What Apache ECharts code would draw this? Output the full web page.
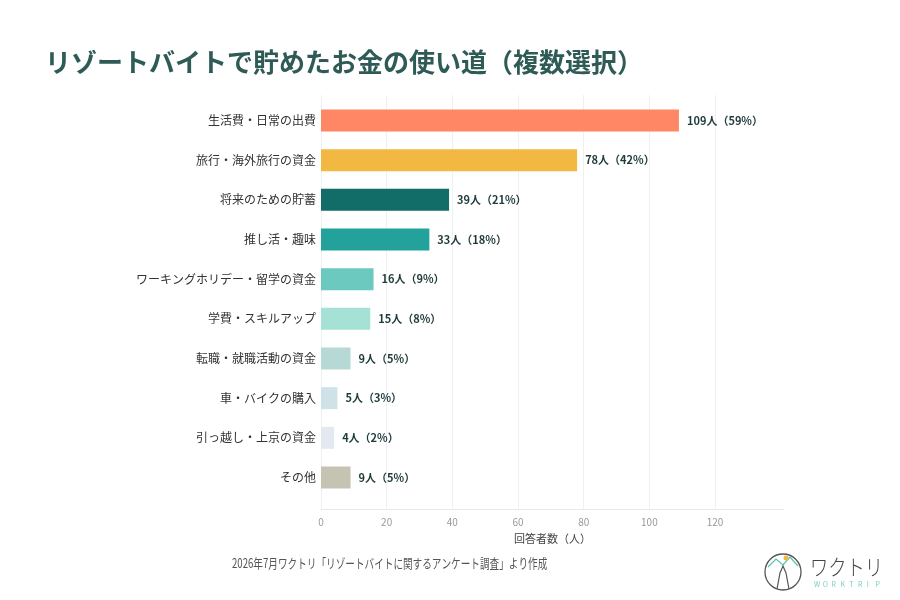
<!DOCTYPE html>
<html>
<head>
<meta charset="utf-8">
<script src="https://cdn.jsdelivr.net/npm/echarts@6/dist/echarts.min.js"></script>
<style>
	html, body { margin: 0; padding: 0; background: #fff; }
	#chart { width: 900px; height: 600px; }
</style>
</head>
<body>
<div id="chart"></div>
<script>
	// Data
	const categories = [
		"生活費・日常の出費",
		"旅行・海外旅行の資金",
		"将来のための貯蓄",
		"推し活・趣味",
		"ワーキングホリデー・留学の資金",
		"学費・スキルアップ",
		"転職・就職活動の資金",
		"車・バイクの購入",
		"引っ越し・上京の資金",
		"その他",
	];
	const counts = [109, 78, 39, 33, 16, 15, 9, 5, 4, 9];
	const percents = [59, 42, 21, 18, 9, 8, 5, 3, 2, 5];
	const barColors = [
		"#FF8766", "#F2B942", "#126C68", "#22A29A", "#6CC9C0",
		"#A5E2D5", "#B6D9D6", "#CFE2E7", "#E3E8F1", "#C5C4B3",
	];
	const xTicks = [0, 20, 40, 60, 80, 100, 120];

	const FONT = "'Noto Sans CJK JP', 'Noto Sans', sans-serif";
	const X_MAX = 141;

	const chart = echarts.init(document.getElementById("chart"));

	// spaced-out "WORKTRIP" under the logo
	const logoLetters = "WORKTRIP".split("").map((ch, i) => ({
		type: "text",
		x: 814 + i * 8.8,
		y: 584,
		style: {
			text: ch,
			fontFamily: FONT,
			fontSize: 7,
			fill: "#7CCFC4",
			verticalAlign: "middle",
		},
	}));

	const option = {
		backgroundColor: "#ffffff",
		textStyle: { fontFamily: FONT },
		title: {
			text: "リゾートバイトで貯めたお金の使い道（複数選択）",
			left: 40,
			top: 44,
			textStyle: {
				fontFamily: FONT,
				fontSize: 26,
				fontWeight: "bold",
				color: "#2F5B57",
			},
		},
		grid: [
			// background grid: gridlines + x axis
			{ left: 321, right: 116, top: 95, bottom: 91 },
			// bars
			{ left: 321, right: 116, top: 100.7, bottom: 102.7 },
		],
		xAxis: [
			{
				gridIndex: 0,
				type: "value",
				min: 0,
				max: X_MAX,
				name: "回答者数（人）",
				nameLocation: "middle",
				nameGap: 24,
				nameTextStyle: { fontFamily: FONT, fontSize: 11, color: "#444" },
				axisLine: { show: true, lineStyle: { color: "#E6E8EE", width: 1 } },
				axisTick: { show: false, customValues: xTicks },
				axisLabel: {
					customValues: xTicks,
					fontFamily: FONT,
					fontSize: 10,
					color: "#999",
					margin: 8,
				},
				splitLine: { show: true, lineStyle: { color: "#EEF0F6", width: 1 } },
			},
			{
				gridIndex: 1,
				type: "value",
				min: 0,
				max: X_MAX,
				show: false,
				splitLine: { show: false },
			},
		],
		yAxis: [
			{
				gridIndex: 0,
				type: "value",
				show: false,
				splitLine: { show: false },
			},
			{
				gridIndex: 1,
				type: "category",
				inverse: true,
				data: categories,
				axisLine: { show: false },
				axisTick: { show: false },
				axisLabel: {
					fontFamily: FONT,
					fontSize: 12,
					color: "#333",
					margin: 5,
				},
			},
		],
		series: [
			{
				type: "bar",
				xAxisIndex: 1,
				yAxisIndex: 1,
				barWidth: 22,
				data: counts.map((v, i) => ({
					value: v,
					itemStyle: { color: barColors[i] },
				})),
				label: {
					show: true,
					position: "right",
					distance: 8,
					fontFamily: FONT,
					fontSize: 11,
					fontWeight: "bold",
					color: "#1F3B3B",
					formatter: (p) => p.value + "人（" + percents[p.dataIndex] + "%）",
				},
			},
		],
		graphic: [
			{
				type: "text",
				x: 232,
				y: 563,
				scaleX: 0.74,
				style: {
					text: "2026年7月ワクトリ「リゾートバイトに関するアンケート調査」より作成",
					fontFamily: FONT,
					fontSize: 13,
					fill: "#555",
					verticalAlign: "middle",
				},
			},
			// logo
			{
				type: "circle",
				shape: { cx: 783, cy: 572, r: 18 },
				style: { fill: "none", stroke: "#555", lineWidth: 1.3 },
			},
			{
				type: "polyline",
				shape: { points: [[768, 567], [776, 559], [783, 565], [790, 557], [798, 566]] },
				style: { fill: "none", stroke: "#5CC2B4", lineWidth: 1.2 },
			},
			{
				type: "circle",
				shape: { cx: 786, cy: 558, r: 2.5 },
				style: { fill: "#F2B942" },
			},
			{
				type: "polyline",
				shape: { points: [[777, 589], [780, 573], [783, 566], [786, 573], [789, 589]] },
				style: { fill: "none", stroke: "#555", lineWidth: 1.2 },
			},
			{
				type: "text",
				x: 810,
				y: 567,
				scaleX: 0.83,
				style: {
					text: "ワクトリ",
					fontFamily: FONT,
					fontSize: 22,
					fontWeight: 300,
					fill: "#444",
					verticalAlign: "middle",
				},
			},
		].concat(logoLetters),
	};

	chart.setOption(option);
</script>
</body>
</html>
